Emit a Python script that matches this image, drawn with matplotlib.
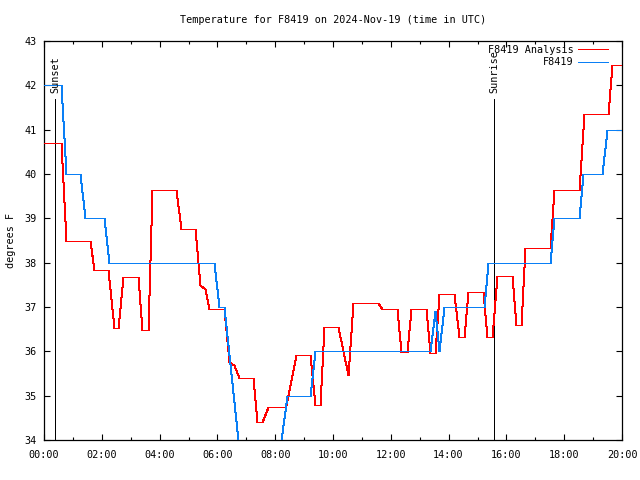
import numpy as np
from matplotlib import pyplot as plt
from matplotlib.ticker import MultipleLocator, FuncFormatter

# station readings (hours since 00:00 UTC, degrees F)
obs_hours = [0.0, 0.588, 0.761, 1.246, 1.419, 2.076, 2.249, 5.882, 6.055, 6.228,
             6.713, 6.80, 8.10, 8.20, 8.408, 9.204, 9.377, 13.356, 13.529, 13.668,
             13.841, 15.225, 15.363, 17.509, 17.647, 18.512, 18.651, 19.308, 19.481, 20.0]
obs_temp = [42.0, 42.0, 40.0, 40.0, 39.0, 39.0, 38.0, 38.0, 37.0, 37.0,
            34.0, 33.5, 33.5, 34.0, 35.0, 35.0, 36.0, 36.0, 36.9, 36.0,
            37.0, 37.0, 38.0, 38.0, 39.0, 39.0, 40.0, 40.0, 41.0, 41.0]

# analysis values
ana_hours = [0.0, 0.588, 0.761, 1.592, 1.730, 2.215, 2.422, 2.561, 2.734, 3.253,
             3.391, 3.599, 3.737, 4.567, 4.740, 5.225, 5.398, 5.571, 5.709, 6.228,
             6.401, 6.574, 6.747, 7.232, 7.370, 7.543, 7.751, 8.339, 8.37, 8.720,
             9.204, 9.377, 9.550, 9.689, 10.173, 10.519, 10.692, 11.557, 11.696, 12.215,
             12.353, 12.561, 12.699, 13.218, 13.356, 13.529, 13.668, 14.187, 14.360, 14.533,
             14.671, 15.190, 15.329, 15.502, 15.675, 16.194, 16.332, 16.505, 16.644, 17.509,
             17.647, 18.512, 18.685, 19.516, 19.654, 20.0]
ana_temp = [40.7, 40.7, 38.5, 38.5, 37.83, 37.83, 36.52, 36.52, 37.67, 37.67,
            36.48, 36.48, 39.64, 39.64, 38.76, 38.76, 37.5, 37.4, 36.95, 36.95,
            35.76, 35.7, 35.4, 35.4, 34.41, 34.41, 34.74, 34.74, 34.8, 35.92,
            35.92, 34.79, 34.79, 36.55, 36.55, 35.47, 37.09, 37.09, 36.95, 36.95,
            35.98, 35.98, 36.95, 36.95, 35.97, 35.97, 37.3, 37.3, 36.32, 36.32,
            37.33, 37.33, 36.32, 36.32, 37.70, 37.70, 36.6, 36.6, 38.33, 38.33,
            39.64, 39.64, 41.35, 41.35, 42.46, 42.46]

sunset = 0.38
sunrise = 15.57

font = 'DejaVu Sans Mono'
fs = 7.3
plt.rcParams['font.family'] = font
plt.rcParams['font.size'] = fs

fig = plt.figure(figsize=(6.4, 4.8), dpi=100)
ax = fig.add_axes([44/640, 40/480, 578/640, 399/480])

lw = 0.72
ax.plot(ana_hours, ana_temp, color='#ff0000', lw=lw, antialiased=False, snap=True,
        label='F8419 Analysis', zorder=3)
ax.plot(obs_hours, obs_temp, color='#0a7ff5', lw=lw, antialiased=False, snap=True,
        label='F8419', zorder=3)

for t, name in [(sunset, 'Sunset'), (sunrise, 'Sunrise')]:
    ax.plot([t, t], [34, 41.69], color='black', lw=lw, antialiased=False, zorder=2)
    ax.text(t + 0.03, 41.83, name, rotation=90, ha='center', va='bottom', fontsize=fs)

ax.set_xlim(0, 20)
ax.set_ylim(34, 43)
ax.xaxis.set_major_locator(MultipleLocator(2))
ax.xaxis.set_minor_locator(MultipleLocator(1))
ax.yaxis.set_major_locator(MultipleLocator(1))
ax.xaxis.set_major_formatter(FuncFormatter(lambda v, p: '%02d:00' % int(round(v))))
ax.tick_params(which='both', direction='in', top=True, right=True, width=0.8)
ax.tick_params(which='major', length=4.5)
ax.tick_params(which='minor', length=2.5)
ax.tick_params(axis='x', pad=7)
ax.tick_params(axis='y', pad=5)
for s in ax.spines.values():
    s.set_linewidth(0.9)

ax.set_title('Temperature for F8419 on 2024-Nov-19 (time in UTC)', fontsize=fs, pad=13)
fig.text(11/640, 240/480, 'degrees F', rotation=90, ha='center', va='center', fontsize=fs)

leg = ax.legend(loc='upper right', bbox_to_anchor=(0.979, 0.995), frameon=False,
                markerfirst=False, alignment='right', handlelength=2.9,
                handletextpad=0.45, borderpad=0.2, labelspacing=0.22, borderaxespad=0,
                fontsize=fs)
for h in leg.get_lines():
    h.set_antialiased(False)
    h.set_linewidth(lw)

fig.savefig('out.png', dpi=100)
